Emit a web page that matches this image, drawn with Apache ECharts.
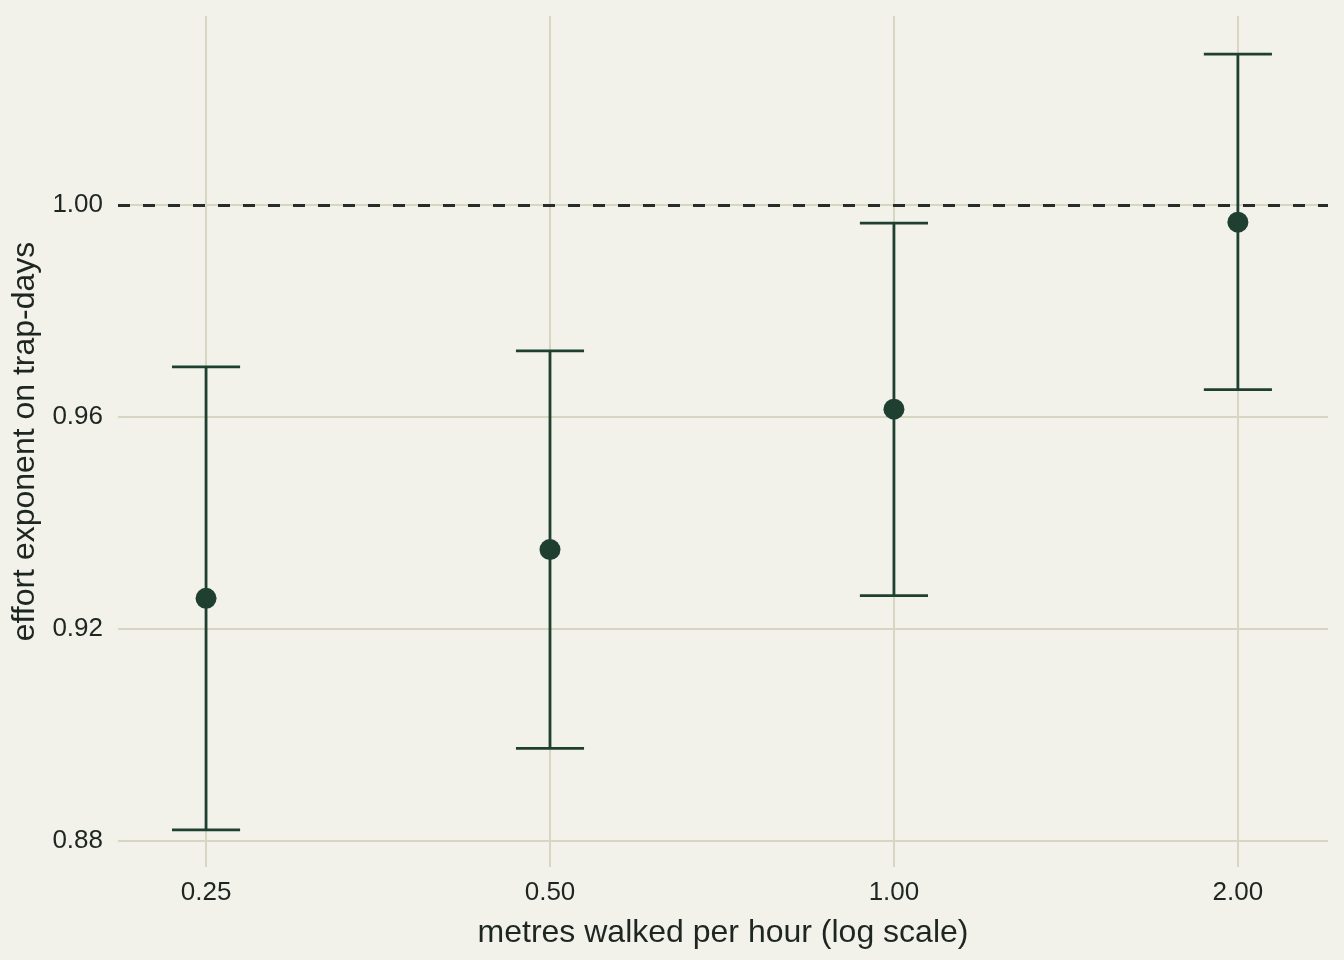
<!DOCTYPE html>
<html>
<head>
<meta charset="utf-8">
<script src="https://cdn.jsdelivr.net/npm/echarts@6/dist/echarts.min.js"></script>
<style>
html,body{margin:0;padding:0;background:#F2F2EB;}
#chart{width:1344px;height:960px;}
</style>
</head>
<body>
<div id="chart"></div>
<script>
// Data
var speeds = [0.25, 0.5, 1.0, 2.0];               // metres walked per hour
var estimates = [0.9258, 0.9350, 0.9615, 0.9968];  // effort exponent
var lowerCI = [0.8821, 0.8975, 0.9263, 0.9652];
var upperCI = [0.9695, 0.9725, 0.9966, 1.0285];
var xTicks = [0.25, 0.5, 1, 2];
var yTicks = [0.88, 0.92, 0.96, 1.00];
var referenceLine = 1.0;

var GREEN = '#1F4030';
var GRID = '#D6D6C3';
var TEXT = '#1E2621';
var FONT = '"Liberation Sans", Arial, sans-serif';

var lg = function (v) { return Math.log(v) / Math.LN2; };

var barData = speeds.map(function (s, i) { return [lg(s), lowerCI[i], upperCI[i]]; });
var pointData = speeds.map(function (s, i) { return [lg(s), estimates[i]]; });

var chart = echarts.init(document.getElementById('chart'), null, {renderer: 'canvas'});
chart.setOption({
  backgroundColor: '#F2F2EB',
  animation: false,
  grid: {left: 118, right: 16, top: 16, bottom: 93, containLabel: false, outerBoundsMode: 'none'},
  xAxis: {
    type: 'value',
    min: -2.256, max: 1.262,
    name: 'metres walked per hour (log scale)',
    nameLocation: 'middle', nameGap: 50,
    nameTextStyle: {fontFamily: FONT, fontSize: 32, color: TEXT},
    axisLine: {show: false},
    axisTick: {show: false, customValues: xTicks.map(lg)},
    axisLabel: {
      customValues: xTicks.map(lg),
      fontFamily: FONT, fontSize: 26, color: TEXT, margin: 13,
      formatter: function (v) { return Math.pow(2, v).toFixed(2); }
    },
    splitLine: {show: true, lineStyle: {color: GRID, width: 2}}
  },
  yAxis: {
    type: 'value',
    min: 0.8751, max: 1.0357,
    name: 'effort exponent on trap-days',
    nameLocation: 'middle', nameGap: 71, nameRotate: 90,
    nameTextStyle: {fontFamily: FONT, fontSize: 32, color: TEXT},
    axisLine: {show: false},
    axisTick: {show: false, customValues: yTicks},
    axisLabel: {
      customValues: yTicks,
      fontFamily: FONT, fontSize: 26, color: TEXT, margin: 15,
      formatter: function (v) { return v.toFixed(2); }
    },
    splitLine: {show: true, lineStyle: {color: GRID, width: 2}}
  },
  series: [
    {
      type: 'custom',
      data: barData,
      z: 3,
      renderItem: function (params, api) {
        var x = api.value(0), lo = api.value(1), hi = api.value(2);
        var w = 0.099;
        var pLo = api.coord([x, lo]), pHi = api.coord([x, hi]);
        var cl1 = api.coord([x - w, lo]), cl2 = api.coord([x + w, lo]);
        var ch1 = api.coord([x - w, hi]), ch2 = api.coord([x + w, hi]);
        var st = {stroke: GREEN, lineWidth: 2.8, fill: null};
        return {
          type: 'group',
          children: [
            {type: 'line', shape: {x1: pLo[0], y1: pLo[1], x2: pHi[0], y2: pHi[1]}, style: st},
            {type: 'line', shape: {x1: cl1[0], y1: cl1[1], x2: cl2[0], y2: cl2[1]}, style: st},
            {type: 'line', shape: {x1: ch1[0], y1: ch1[1], x2: ch2[0], y2: ch2[1]}, style: st}
          ]
        };
      }
    },
    {
      type: 'scatter',
      data: pointData,
      symbol: 'circle',
      symbolSize: 21,
      z: 4,
      itemStyle: {color: GREEN, opacity: 1},
      markLine: {
        silent: true,
        symbol: ['none', 'none'],
        label: {show: false},
        lineStyle: {color: '#272D29', width: 2.8, type: [12, 13]},
        data: [{yAxis: referenceLine}]
      }
    }
  ]
});
</script>
</body>
</html>
